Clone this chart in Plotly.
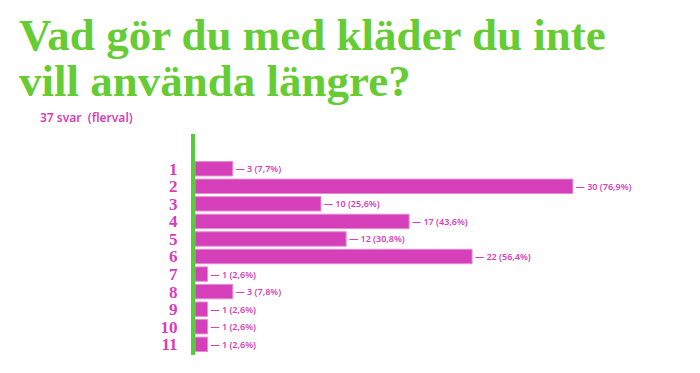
import plotly.graph_objects as go

categories = [1, 2, 3, 4, 5, 6, 7, 8, 9, 10, 11]
counts = [3, 30, 10, 17, 12, 22, 1, 3, 1, 1, 1]
labels = ["3 (7,7%)", "30 (76,9%)", "10 (25,6%)", "17 (43,6%)", "12 (30,8%)",
          "22 (56,4%)", "1 (2,6%)", "3 (7,8%)", "1 (2,6%)", "1 (2,6%)", "1 (2,6%)"]
tick_labels = [str(c) for c in categories]

title_line1 = "Vad gör du med kläder du inte"
title_line2 = "vill använda längre?"
subtitle = "37 svar  (flerval)"

GREEN = "#66CC33"
AXIS_GREEN = "#55CC3A"
MAGENTA = "#D63FBA"

# figure geometry (page body adds an 8px offset)
W, H = 692, 365
L, R, T, B = 187, 5, 126, 18
PW = W - L - R

def px_x(X):
    return (X - L) / PW

fig = go.Figure(go.Bar(
    x=counts, y=categories, orientation="h",
    width=0.82,
    marker=dict(color=MAGENTA, line=dict(color="#E58AD3", width=1)),
    text=["— " + t for t in labels],
    textposition="outside",
    textfont=dict(family="Noto Sans", size=9, color=MAGENTA, weight=600),
    cliponaxis=False,
))

fig.update_layout(
    width=W, height=H,
    paper_bgcolor="white", plot_bgcolor="white",
    margin=dict(l=L, r=R, t=T, b=B),
    showlegend=False,
    xaxis=dict(range=[0, 39.7], showgrid=False, zeroline=False, showticklabels=False,
               showline=False, ticks=""),
    yaxis=dict(range=[11.61, -0.98], tickvals=categories, ticktext=tick_labels,
               showgrid=False, zeroline=False, showline=True, linecolor=AXIS_GREEN,
               linewidth=4, ticks="", ticklabelstandoff=10,
               tickfont=dict(family="Liberation Serif", size=17, color=MAGENTA,
                             weight="bold")),
    annotations=[
        dict(text=title_line1, xref="paper", yref="paper", x=px_x(9), y=1,
             xanchor="left", yanchor="top", showarrow=False, yshift=T - 0,
             font=dict(family="Liberation Serif", size=45, color=GREEN, weight="bold")),
        dict(text=title_line2, xref="paper", yref="paper", x=px_x(9), y=1,
             xanchor="left", yanchor="top", showarrow=False, yshift=T - 46,
             font=dict(family="Liberation Serif", size=45, color=GREEN, weight="bold")),
        dict(text=subtitle, xref="paper", yref="paper", x=px_x(30), y=1,
             xanchor="left", yanchor="middle", showarrow=False, yshift=T - 109,
             font=dict(family="Noto Sans", size=12, color=MAGENTA, weight=600)),
    ],
)

fig.write_html("out.html")
